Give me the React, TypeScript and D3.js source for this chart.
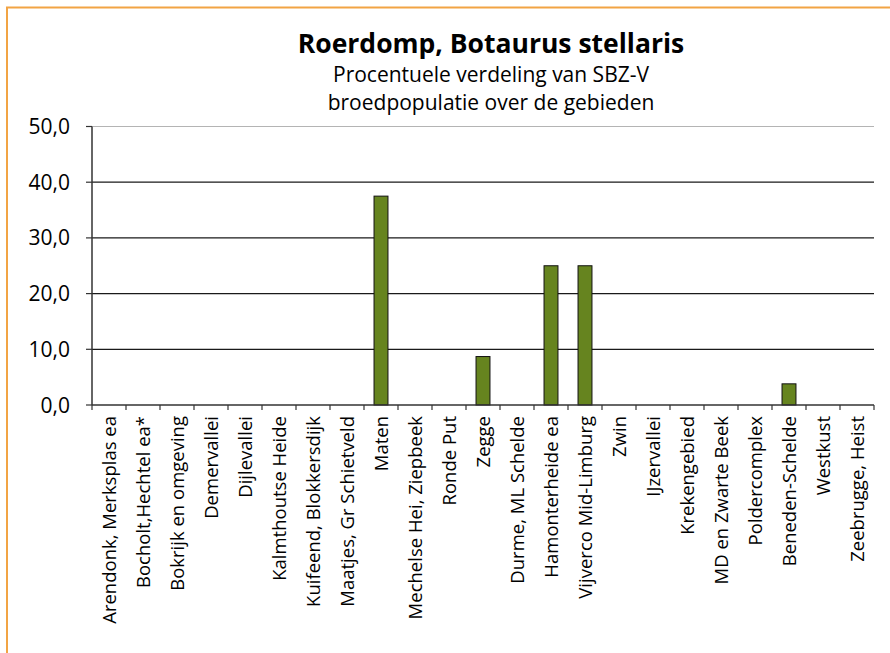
import { useMemo } from 'react'
import * as d3 from 'd3'

const WIDTH = 890
const HEIGHT = 653

const areas = [
  'Arendonk, Merksplas ea',
  'Bocholt,Hechtel ea*',
  'Bokrijk en omgeving',
  'Demervallei',
  'Dijlevallei',
  'Kalmthoutse Heide',
  'Kuifeend, Blokkersdijk',
  'Maatjes, Gr Schietveld',
  'Maten',
  'Mechelse Hei, Ziepbeek',
  'Ronde Put',
  'Zegge',
  'Durme, ML Schelde',
  'Hamonterheide ea',
  'Vijverco Mid-Limburg',
  'Zwin',
  'IJzervallei',
  'Krekengebied',
  'MD en Zwarte Beek',
  'Poldercomplex',
  'Beneden-Schelde',
  'Westkust',
  'Zeebrugge, Heist',
]

const percentages = [
  0, 0, 0, 0, 0, 0, 0, 0, 37.5, 0, 0, 8.7, 0, 25.0, 25.0, 0, 0, 0, 0, 0, 3.8, 0, 0,
]

const yTicks = [0, 10, 20, 30, 40, 50]

const FONT = '"Open Sans", "Noto Sans", sans-serif'

export default function App() {
  const left = 92
  const right = 874
  const top = 126.5
  const bottom = 405

  const x = useMemo(
    () => d3.scaleBand<string>().domain(areas).range([left, right]).paddingInner(0).paddingOuter(0),
    []
  )
  const y = useMemo(() => d3.scaleLinear().domain([0, 50]).range([bottom, top]), [])
  const fmt = (v: number) => d3.format('.1f')(v).replace('.', ',')
  const barW = x.bandwidth() * 0.41

  return (
    <svg
      width={WIDTH}
      height={HEIGHT}
      style={{ position: 'absolute', left: 0, top: 0, background: '#fff' }}
    >
      <rect x={7} y={7.5} width={WIDTH + 20} height={HEIGHT + 20} fill="#fff" stroke="#f2a444" strokeWidth={2} />

      <text x={491} y={53} textAnchor="middle" fontFamily={FONT} fontWeight="bold" fontSize={26.5} fill="#000">
        Roerdomp, Botaurus stellaris
      </text>
      <text x={491} y={82} textAnchor="middle" fontFamily={FONT} fontSize={21} fill="#000">
        Procentuele verdeling van SBZ-V
      </text>
      <text x={491} y={110} textAnchor="middle" fontFamily={FONT} fontSize={21} fill="#000">
        broedpopulatie over de gebieden
      </text>

      {yTicks.map((t) => (
        <g key={t}>
          {t > 0 && (
            <line
              x1={left}
              x2={right}
              y1={y(t)}
              y2={y(t)}
              stroke={t === 50 ? '#b4b4b4' : '#1a1a1a'}
              strokeWidth={1.2}
            />
          )}
          <line x1={left - 6} x2={left} y1={y(t)} y2={y(t)} stroke="#333" strokeWidth={1.2} />
          <text
            x={70}
            y={y(t)}
            dy="0.36em"
            textAnchor="end"
            fontFamily={FONT}
            fontSize={21}
            fill="#000"
          >
            {fmt(t)}
          </text>
        </g>
      ))}

      {areas.map((a, i) => {
        const v = percentages[i]
        const cx = (x(a) ?? 0) + x.bandwidth() / 2
        return (
          <g key={a}>
            {v > 0 && (
              <rect
                x={cx - barW / 2}
                y={y(v)}
                width={barW}
                height={bottom - y(v)}
                fill="#66841f"
                stroke="#111"
                strokeWidth={1}
              />
            )}
            <text
              transform={`translate(${cx + 6.5},${416}) rotate(-90)`}
              textAnchor="end"
              fontFamily={FONT}
              fontSize={18.5}
              fill="#000"
            >
              {a}
            </text>
          </g>
        )
      })}

      {[...areas.map((a) => x(a) ?? 0), right].map((tx, i) => (
        <line key={i} x1={tx} x2={tx} y1={bottom} y2={bottom + 5} stroke="#333" strokeWidth={1.2} />
      ))}
      <line x1={left} x2={left} y1={top} y2={bottom} stroke="#333" strokeWidth={1.5} />
      <line x1={left} x2={right} y1={bottom} y2={bottom} stroke="#333" strokeWidth={1.5} />
    </svg>
  )
}
